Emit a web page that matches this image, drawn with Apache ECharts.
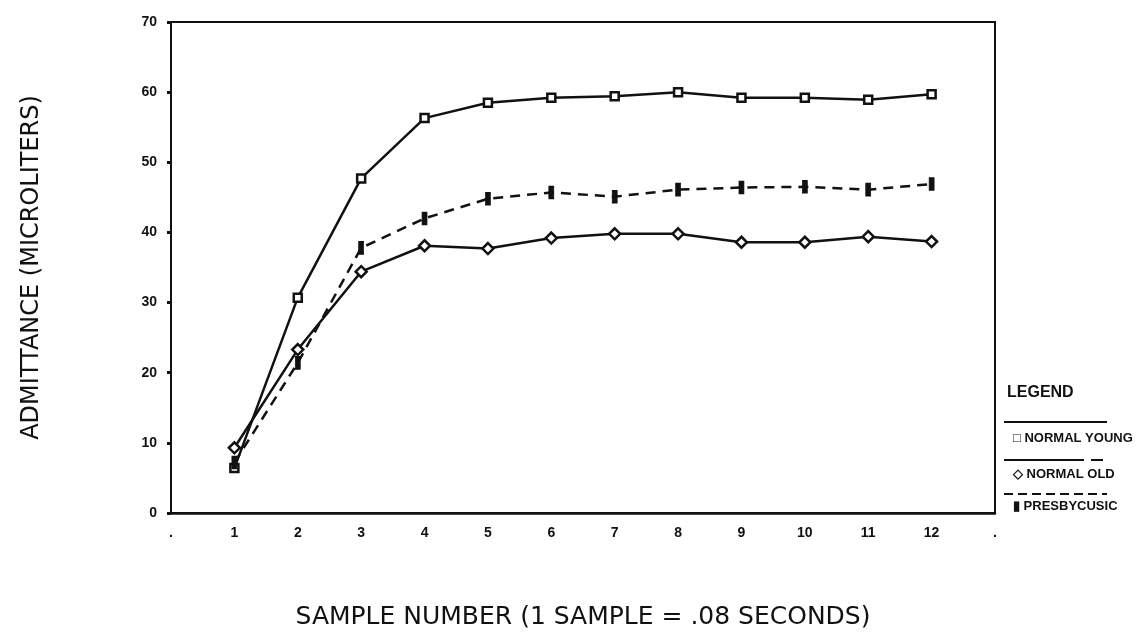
<!DOCTYPE html>
<html>
<head>
<meta charset="utf-8">
<script src="https://cdn.jsdelivr.net/npm/echarts@6/dist/echarts.min.js"></script>
<style>
  html, body { margin: 0; padding: 0; background: #fff; }
  #chart { width: 1148px; height: 637px; }
</style>
</head>
<body>
<div id="chart"></div>
<script>
// x categories: blank dots at both ends, samples 1..12 between
const xLabels = ['.', '1', '2', '3', '4', '5', '6', '7', '8', '9', '10', '11', '12', '.'];

const normalYoung = [6.4, 30.7, 47.7, 56.3, 58.5, 59.2, 59.4, 60.0, 59.2, 59.2, 58.9, 59.7];
const normalOld = [9.3, 23.3, 34.4, 38.1, 37.7, 39.2, 39.8, 39.8, 38.6, 38.6, 39.4, 38.7];
const presbycusic = [7.2, 21.4, 37.8, 42.0, 44.8, 45.7, 45.1, 46.1, 46.4, 46.5, 46.1, 46.9];

function toPoints(arr) {
    return arr.map((v, i) => [i + 1, v]);
}

const ink = '#111';
const tickFont = {
    color: ink,
    fontFamily: 'Liberation Sans',
    fontWeight: 'bold',
    fontSize: 14
};
const titleFont = {
    color: ink,
    fontFamily: 'DejaVu Sans'
};

let option = {
    animation: false,
    backgroundColor: '#fff',
    grid: {
        left: 171,
        right: 153,
        top: 22,
        bottom: 124,
        show: true,
        borderColor: ink,
        borderWidth: 2
    },
    xAxis: {
        type: 'category',
        data: xLabels,
        boundaryGap: false,
        axisLine: {lineStyle: {color: ink, width: 2.5}},
        axisTick: {show: false},
        splitLine: {show: false},
        axisLabel: Object.assign({margin: 13, interval: 0}, tickFont),
        name: 'SAMPLE NUMBER (1 SAMPLE = .08 SECONDS)',
        nameLocation: 'middle',
        nameGap: 92,
        nameTextStyle: Object.assign({fontSize: 25}, titleFont)
    },
    yAxis: {
        type: 'value',
        min: 0,
        max: 70,
        interval: 10,
        axisLine: {lineStyle: {color: ink, width: 2}},
        axisTick: {show: true, length: 4, lineStyle: {color: ink, width: 3}},
        splitLine: {show: false},
        axisLabel: Object.assign({margin: 14}, tickFont),
        name: 'ADMITTANCE (MICROLITERS)',
        nameLocation: 'middle',
        nameGap: 127,
        nameRotate: 90,
        nameTextStyle: Object.assign({fontSize: 24}, titleFont)
    },
    series: [
        {
            name: 'NORMAL YOUNG',
            type: 'line',
            data: toPoints(normalYoung),
            symbol: 'rect',
            symbolSize: 8,
            lineStyle: {color: ink, width: 2.5},
            itemStyle: {color: '#fff', borderColor: ink, borderWidth: 2.5}
        },
        {
            name: 'NORMAL OLD',
            type: 'line',
            data: toPoints(normalOld),
            symbol: 'diamond',
            symbolSize: 11,
            lineStyle: {color: ink, width: 2.5},
            itemStyle: {color: '#fff', borderColor: ink, borderWidth: 2.5}
        },
        {
            name: 'PRESBYCUSIC',
            type: 'line',
            data: toPoints(presbycusic),
            symbol: 'rect',
            symbolSize: [5, 12],
            lineStyle: {color: ink, width: 2.5, type: [10, 7]},
            itemStyle: {color: ink, borderColor: ink, borderWidth: 1}
        }
    ],
    graphic: [
        {type: 'text', left: 1007, top: 385, style: {text: 'LEGEND', fill: ink, font: 'bold 16px "Liberation Sans"'}},
        {type: 'line', shape: {x1: 1004, y1: 422, x2: 1107, y2: 422}, style: {stroke: ink, lineWidth: 2}},
        {type: 'text', left: 1013, top: 432, style: {text: '□ NORMAL YOUNG', fill: ink, font: 'bold 13px "Liberation Sans"'}},
        {type: 'line', shape: {x1: 1004, y1: 460, x2: 1084, y2: 460}, style: {stroke: ink, lineWidth: 2}},
        {type: 'line', shape: {x1: 1091, y1: 460, x2: 1103, y2: 460}, style: {stroke: ink, lineWidth: 2}},
        {type: 'text', left: 1013, top: 468, style: {text: '◇ NORMAL OLD', fill: ink, font: 'bold 13px "Liberation Sans"'}},
        {type: 'line', shape: {x1: 1004, y1: 494, x2: 1107, y2: 494}, style: {stroke: ink, lineWidth: 2, lineDash: [9, 5]}},
        {type: 'text', left: 1013, top: 500, style: {text: '▮ PRESBYCUSIC', fill: ink, font: 'bold 13px "Liberation Sans"'}}
    ]
};

echarts.init(document.getElementById('chart')).setOption(option);
</script>
</body>
</html>
